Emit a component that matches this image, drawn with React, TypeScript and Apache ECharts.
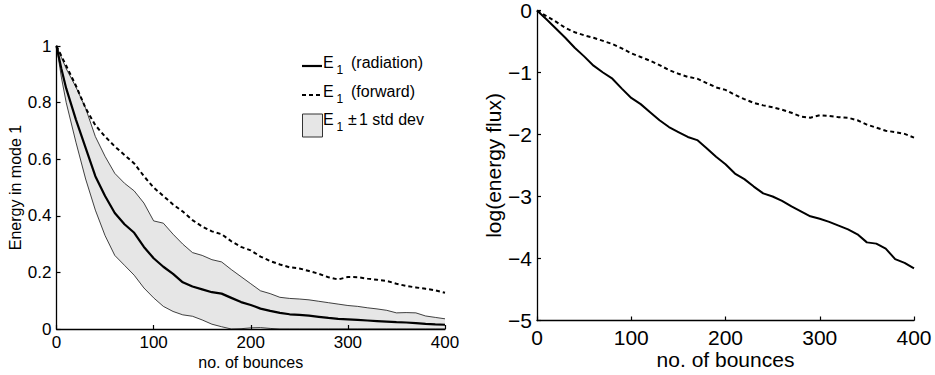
import React, { useEffect, useRef } from "react";
import * as echarts from "echarts";

const X_LEFT = [0, 5, 10, 20, 30, 40, 50, 60, 70, 80, 90, 100, 110, 120, 130, 140, 150, 160, 170, 180, 190, 200, 210, 220, 230, 240, 250, 260, 270, 280, 290, 300, 310, 320, 330, 340, 350, 360, 370, 380, 390, 400];
const MEAN_RAD = [1, 0.92, 0.85, 0.74, 0.64, 0.54, 0.47, 0.41, 0.37, 0.34, 0.29, 0.25, 0.22, 0.195, 0.165, 0.15, 0.14, 0.13, 0.125, 0.11, 0.095, 0.085, 0.072, 0.064, 0.057, 0.052, 0.05, 0.047, 0.043, 0.039, 0.036, 0.034, 0.032, 0.03, 0.028, 0.026, 0.024, 0.023, 0.021, 0.018, 0.016, 0.015];
const FORWARD = [1, 0.965, 0.93, 0.86, 0.78, 0.72, 0.68, 0.645, 0.615, 0.585, 0.54, 0.5, 0.47, 0.44, 0.415, 0.385, 0.362, 0.345, 0.335, 0.31, 0.29, 0.278, 0.256, 0.24, 0.228, 0.218, 0.214, 0.205, 0.195, 0.183, 0.175, 0.184, 0.183, 0.178, 0.174, 0.17, 0.16, 0.152, 0.147, 0.142, 0.137, 0.128];
const UPPER = [1, 0.96, 0.92, 0.855, 0.78, 0.68, 0.61, 0.55, 0.515, 0.488, 0.445, 0.382, 0.374, 0.335, 0.3, 0.27, 0.26, 0.245, 0.237, 0.21, 0.185, 0.16, 0.135, 0.125, 0.112, 0.108, 0.106, 0.103, 0.098, 0.093, 0.088, 0.083, 0.08, 0.075, 0.071, 0.066, 0.057, 0.058, 0.057, 0.046, 0.041, 0.036];
const LOWER = [1, 0.89, 0.8, 0.66, 0.53, 0.42, 0.33, 0.26, 0.225, 0.19, 0.145, 0.11, 0.08, 0.062, 0.05, 0.045, 0.032, 0.017, 0.008, 0, 0.001, 0.004, 0.005, 0.002, 0, 0, 0, 0, 0, 0, 0, 0, 0, 0, 0, 0, 0, 0, 0, 0, 0, 0];

const X_RIGHT = [0, 10, 20, 30, 40, 50, 60, 70, 80, 90, 100, 110, 120, 130, 140, 150, 160, 170, 180, 190, 200, 210, 220, 230, 240, 250, 260, 270, 280, 290, 300, 310, 320, 330, 340, 350, 360, 370, 380, 390, 400];
const LOG_RAD = [0, -0.14, -0.29, -0.44, -0.6, -0.74, -0.89, -1.0, -1.1, -1.26, -1.41, -1.51, -1.64, -1.77, -1.88, -1.96, -2.04, -2.09, -2.22, -2.36, -2.48, -2.63, -2.72, -2.84, -2.95, -3.0, -3.07, -3.16, -3.24, -3.32, -3.36, -3.41, -3.47, -3.53, -3.61, -3.74, -3.76, -3.84, -4.01, -4.07, -4.16];
const LOG_FWD = [0, -0.09, -0.18, -0.28, -0.35, -0.4, -0.44, -0.49, -0.54, -0.61, -0.69, -0.75, -0.81, -0.88, -0.96, -1.02, -1.07, -1.1, -1.17, -1.24, -1.28, -1.36, -1.43, -1.49, -1.53, -1.56, -1.6, -1.65, -1.71, -1.73, -1.69, -1.7, -1.72, -1.73, -1.77, -1.84, -1.89, -1.94, -1.96, -1.99, -2.05];

const LEGEND_LABELS = ["(radiation)", "(forward)", "1 std dev"];

const FONT = "'Liberation Sans', Arial, Helvetica, sans-serif";

const pairs = (xs: number[], ys: number[]) => xs.map((x, i) => [x, ys[i]]);

export default function App() {
  const ref = useRef<HTMLDivElement>(null);
  useEffect(() => {
    if (!ref.current) return;
    const chart = echarts.init(ref.current, null, { renderer: "svg" });
    const axisLine = { show: true, onZero: false, lineStyle: { color: "#000", width: 1.3 } };
    const tick = { show: true, inside: true, length: 4, lineStyle: { color: "#000", width: 1.2 } };
    const minus = (v: number) => (v < 0 ? "\u2212" + Math.abs(v) : String(v));
    const legendRows = [62.5, 91, 119];
    const option: any = {
      animation: false,
      backgroundColor: "#fff",
      grid: [
        { left: 56.5, top: 46, width: 388.5, height: 285 },
        { left: 537, top: 9.5, width: 377, height: 311 },
      ],
      xAxis: [
        {
          gridIndex: 0, type: "value", min: 0, max: 400, interval: 100, z: 5,
          axisLine, axisTick: tick, splitLine: { show: false },
          axisLabel: { color: "#000", fontSize: 17, lineHeight: 14, fontFamily: FONT, margin: 6 },
          name: "no. of bounces", nameLocation: "middle", nameGap: 26, nameMoveOverlap: false,
          nameTextStyle: { color: "#000", fontSize: 16, lineHeight: 14, fontFamily: FONT },
        },
        {
          gridIndex: 1, type: "value", min: 0, max: 400, interval: 100, z: 5,
          axisLine, axisTick: tick, splitLine: { show: false },
          axisLabel: { color: "#000", fontSize: 21, lineHeight: 16, fontFamily: FONT, margin: 9 },
          name: "no. of bounces", nameLocation: "middle", nameGap: 30, nameMoveOverlap: false,
          nameTextStyle: { color: "#000", fontSize: 21, lineHeight: 18, fontFamily: FONT },
        },
      ],
      yAxis: [
        {
          gridIndex: 0, type: "value", min: 0, max: 1, interval: 0.2, z: 5,
          axisLine, axisTick: tick, splitLine: { show: false },
          axisLabel: { color: "#000", fontSize: 17, fontFamily: FONT, margin: 5 },
          name: "Energy in mode 1", nameLocation: "middle", nameGap: 33, nameMoveOverlap: false,
          nameTextStyle: { color: "#000", fontSize: 16, fontFamily: FONT },
        },
        {
          gridIndex: 1, type: "value", min: -5, max: 0, interval: 1, z: 5,
          axisLine, axisTick: tick, splitLine: { show: false },
          axisLabel: { color: "#000", fontSize: 21, fontFamily: FONT, margin: 5, formatter: minus },
          name: "log(energy flux)", nameLocation: "middle", nameGap: 33, nameMoveOverlap: false,
          nameTextStyle: { color: "#000", fontSize: 21, fontFamily: FONT },
        },
      ],
      series: [
        {
          type: "line", xAxisIndex: 0, yAxisIndex: 0, showSymbol: false, symbol: "none", z: 1,
          data: pairs(X_LEFT, UPPER), lineStyle: { width: 0, opacity: 0 },
          areaStyle: { color: "#e6e6e6", opacity: 1 }, silent: true,
        },
        {
          type: "line", xAxisIndex: 0, yAxisIndex: 0, showSymbol: false, symbol: "none", z: 1,
          data: pairs(X_LEFT, LOWER), lineStyle: { width: 0, opacity: 0 },
          areaStyle: { color: "#ffffff", opacity: 1 }, silent: true,
        },
        {
          type: "line", xAxisIndex: 0, yAxisIndex: 0, showSymbol: false, symbol: "none", z: 2,
          data: pairs(X_LEFT, UPPER), lineStyle: { color: "#111", width: 0.8 },
        },
        {
          type: "line", xAxisIndex: 0, yAxisIndex: 0, showSymbol: false, symbol: "none", z: 2,
          data: pairs(X_LEFT, LOWER), lineStyle: { color: "#111", width: 0.8 },
        },
        {
          type: "line", xAxisIndex: 0, yAxisIndex: 0, showSymbol: false, symbol: "none", z: 3,
          data: pairs(X_LEFT, MEAN_RAD), lineStyle: { color: "#000", width: 2.2 },
        },
        {
          type: "line", xAxisIndex: 0, yAxisIndex: 0, showSymbol: false, symbol: "none", z: 3,
          data: pairs(X_LEFT, FORWARD), lineStyle: { color: "#000", width: 2, type: [4, 3] },
        },
        {
          type: "line", xAxisIndex: 1, yAxisIndex: 1, showSymbol: false, symbol: "none", z: 3,
          data: pairs(X_RIGHT, LOG_RAD), lineStyle: { color: "#000", width: 2 },
        },
        {
          type: "line", xAxisIndex: 1, yAxisIndex: 1, showSymbol: false, symbol: "none", z: 3,
          data: pairs(X_RIGHT, LOG_FWD), lineStyle: { color: "#000", width: 2, type: [4, 3] },
        },
      ],
      graphic: [
        { type: "line", z: 10, shape: { x1: 302, y1: 66, x2: 322, y2: 66 }, style: { stroke: "#000", lineWidth: 2.2 } },
        { type: "line", z: 10, shape: { x1: 302, y1: 95, x2: 322, y2: 95 }, style: { stroke: "#000", lineWidth: 2, lineDash: [4, 3] } },
        { type: "rect", z: 10, shape: { x: 302.5, y: 114, width: 20, height: 23 }, style: { fill: "#e6e6e6", stroke: "#333", lineWidth: 1 } },
        ...legendRows.map((y) => ({
          type: "text", z: 10, x: 323, y, style: { text: "E", fontSize: 16, fontFamily: FONT, fill: "#000", verticalAlign: "middle" },
        })),
        ...legendRows.map((y) => ({
          type: "text", z: 10, x: 336.5, y: y + 7.5, style: { text: "1", fontSize: 12, fontFamily: FONT, fill: "#000", verticalAlign: "middle" },
        })),
        { type: "text", z: 10, x: 351, y: legendRows[0], style: { text: LEGEND_LABELS[0], fontSize: 16, fontFamily: FONT, fill: "#000", verticalAlign: "middle" } },
        { type: "text", z: 10, x: 351, y: legendRows[1], style: { text: LEGEND_LABELS[1], fontSize: 16, fontFamily: FONT, fill: "#000", verticalAlign: "middle" } },
        { type: "text", z: 10, x: 348, y: legendRows[2], style: { text: "\u00b1", fontSize: 16, fontFamily: FONT, fill: "#000", verticalAlign: "middle" } },
        { type: "text", z: 10, x: 359, y: legendRows[2], style: { text: LEGEND_LABELS[2], fontSize: 16, fontFamily: FONT, fill: "#000", verticalAlign: "middle" } },
      ],
    };
    chart.setOption(option);
    return () => chart.dispose();
  }, []);
  return <div ref={ref} style={{ position: "absolute", left: 0, top: 0, width: 935, height: 375 }} />;
}
